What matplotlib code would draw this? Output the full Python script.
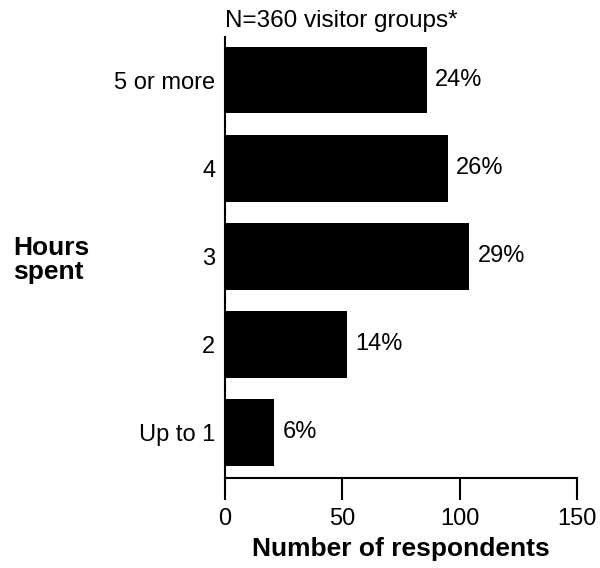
import matplotlib.pyplot as plt
import numpy as np

plt.rcParams['font.family'] = ['Liberation Sans', 'DejaVu Sans']

categories = ['Up to 1', '2', '3', '4', '5 or more']
counts = [21, 52, 104, 95, 86]
percents = ['6%', '14%', '29%', '26%', '24%']

fig = plt.figure(figsize=(6, 5.68), dpi=100)
ax = fig.add_axes([0.375, 0.159, 0.5867, 0.776])

y = np.arange(len(categories))
ax.barh(y, counts, height=0.757, color='black')

for yi, c, p in zip(y, counts, percents):
    ax.annotate(p, (c, yi), xytext=(6, 0), textcoords='offset points',
                va='center', ha='left', fontsize=17)

ax.set_xlim(0, 150)
ax.set_ylim(-0.513, 4.49)
ax.set_xticks([0, 50, 100, 150])
ax.set_yticks(y)
ax.set_yticklabels(categories)
ax.tick_params(axis='x', length=16, width=1.5, labelsize=17, pad=6)
ax.tick_params(axis='y', length=0, labelsize=17, pad=7)

for s in ['top', 'right']:
    ax.spines[s].set_visible(False)
ax.spines['left'].set_linewidth(1.5)
ax.spines['bottom'].set_linewidth(1.5)

ax.set_xlabel('Number of respondents', fontsize=19, fontweight='bold', labelpad=5)
fig.text(0.022, 0.542, 'Hours\nspent', fontsize=19, fontweight='bold',
         ha='left', va='center', linespacing=1.0)
fig.text(0.375, 0.953, 'N=360 visitor groups*', fontsize=17.5, ha='left', va='baseline')

fig.savefig('out.png', dpi=100)
